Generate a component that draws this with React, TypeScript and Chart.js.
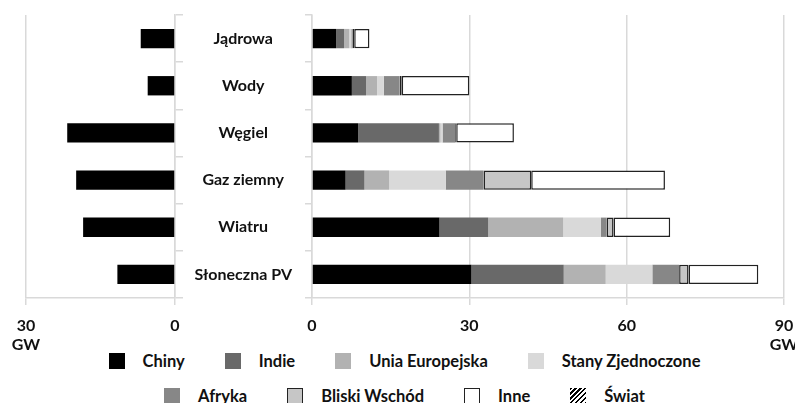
import React, { useEffect, useRef } from "react";
import { Chart, registerables } from "chart.js";
Chart.register(...registerables);

const categories = ["Jądrowa", "Wody", "Węgiel", "Gaz ziemny", "Wiatru", "Słoneczna PV"];
const swiat = [6.9, 5.5, 21.7, 19.9, 18.5, 11.6];
const chiny = [4.6, 7.6, 8.8, 6.4, 24.3, 30.4];
const indie = [1.5, 2.7, 15.4, 3.6, 9.3, 17.6];
const ue = [1.0, 2.1, 0.3, 4.7, 14.3, 8.0];
const usa = [0.4, 1.3, 0.4, 10.8, 7.2, 8.9];
const afryka = [0.2, 3.0, 2.4, 7.2, 1.1, 5.1];
const bliskiWschod = [0.35, 0.4, 0.2, 9.1, 1.3, 1.8];
const inne = [2.9, 12.9, 11.0, 25.5, 10.8, 13.3];
const leftMax = 30;
const rightMax = 90;
const tickStep = 30;
const unit = "GW";

const FONT = "Lato, 'Open Sans', sans-serif";
const GRID = "#d9d9d9";

const legendRow1 = [
  { label: "Chiny", bg: "#000000", border: "#000000" },
  { label: "Indie", bg: "#696969", border: "#696969" },
  { label: "Unia Europejska", bg: "#b2b2b2", border: "#b2b2b2" },
  { label: "Stany Zjednoczone", bg: "#d9d9d9", border: "#d9d9d9" },
];
const legendRow2 = [
  { label: "Afryka", bg: "#878787", border: "#878787" },
  { label: "Bliski Wschód", bg: "#c6c6c6", border: "#222" },
  { label: "Inne", bg: "#ffffff", border: "#222" },
  { label: "Świat", bg: "hatch", border: "transparent" },
];

function LeftChart() {
  const ref = useRef<HTMLCanvasElement>(null);
  useEffect(() => {
    const chart = new Chart(ref.current!, {
      type: "bar",
      data: {
        labels: categories,
        datasets: [
          {
            label: "Świat",
            data: swiat,
            backgroundColor: "#000",
            barPercentage: 0.41,
            categoryPercentage: 1,
          },
        ],
      },
      options: {
        indexAxis: "y",
        animation: false,
        responsive: false,
        maintainAspectRatio: false,
        layout: { padding: { left: 26, top: 15, right: 0, bottom: 0 } },
        plugins: { legend: { display: false }, tooltip: { enabled: false } },
        scales: {
          x: {
            reverse: true,
            min: 0,
            max: leftMax,
            ticks: {
              stepSize: tickStep,
              color: "#111",
              font: { family: FONT, size: 16, weight: "bold" },
              padding: 11,
              callback: (v: any) => (v === leftMax ? [String(v), unit] : String(v)),
            },
            grid: { color: GRID, tickLength: 7, lineWidth: 1.5 },
            border: { color: GRID, width: 1.5 },
            afterFit: (s: any) => {
              s.height = 52;
            },
          },
          y: {
            position: "right",
            ticks: { display: false },
            grid: { color: GRID, drawOnChartArea: false, tickLength: 8, lineWidth: 1.5 },
            border: { color: GRID, width: 1.5 },
            afterFit: (s: any) => {
              s.width = 25;
              s.paddingTop = 0;
              s.paddingBottom = 0;
            },
          },
        },
      },
    });
    return () => chart.destroy();
  }, []);
  return (
    <canvas
      ref={ref}
      width={200}
      height={350}
      style={{ position: "absolute", left: 0, top: 0, width: 200, height: 350 }}
    />
  );
}

function RightChart() {
  const ref = useRef<HTMLCanvasElement>(null);
  useEffect(() => {
    const mk = (label: string, data: number[], bg: string, border?: string) => ({
      label,
      data,
      backgroundColor: bg,
      borderColor: border || bg,
      borderWidth: border ? 1.5 : 0,
      borderSkipped: false as any,
      barPercentage: 0.41,
      categoryPercentage: 1,
    });
    const chart = new Chart(ref.current!, {
      type: "bar",
      data: {
        labels: categories,
        datasets: [
          mk("Chiny", chiny, "#000000"),
          mk("Indie", indie, "#696969"),
          mk("Unia Europejska", ue, "#b2b2b2"),
          mk("Stany Zjednoczone", usa, "#d9d9d9"),
          mk("Afryka", afryka, "#878787"),
          mk("Bliski Wschód", bliskiWschod, "#c6c6c6", "#222"),
          mk("Inne", inne, "#ffffff", "#222"),
        ],
      },
      options: {
        indexAxis: "y",
        animation: false,
        responsive: false,
        maintainAspectRatio: false,
        layout: { padding: { left: 0, top: 15, right: 31, bottom: 0 } },
        plugins: { legend: { display: false }, tooltip: { enabled: false } },
        scales: {
          x: {
            stacked: true,
            min: 0,
            max: rightMax,
            ticks: {
              stepSize: tickStep,
              color: "#111",
              font: { family: FONT, size: 16, weight: "bold" },
              padding: 11,
              callback: (v: any) => (v === rightMax ? [String(v), unit] : String(v)),
            },
            grid: { color: GRID, tickLength: 7, lineWidth: 1.5 },
            border: { color: GRID, width: 1.5 },
            afterFit: (s: any) => {
              s.height = 52;
            },
          },
          y: {
            stacked: true,
            ticks: {
              color: "#111",
              font: { family: FONT, size: 16, weight: "bold" },
              crossAlign: "center",
              padding: 13,
            },
            grid: { color: GRID, drawOnChartArea: false, tickLength: 7, lineWidth: 1.5 },
            border: { color: GRID, width: 1.5 },
            afterFit: (s: any) => {
              s.width = 137;
              s.paddingTop = 0;
              s.paddingBottom = 0;
            },
          },
        },
      },
    });
    return () => chart.destroy();
  }, []);
  return (
    <canvas
      ref={ref}
      width={640}
      height={350}
      style={{ position: "absolute", left: 175, top: 0, width: 640, height: 350 }}
    />
  );
}

function LegendItem({
  label,
  bg,
  border,
  last,
}: {
  label: string;
  bg: string;
  border: string;
  last: boolean;
}) {
  const boxStyle: React.CSSProperties = {
    width: 16,
    height: 16,
    boxSizing: "border-box",
    marginRight: 18,
    flex: "none",
  };
  if (bg === "hatch") {
    boxStyle.background =
      "repeating-linear-gradient(135deg, #000 0px, #000 1.5px, #fff 1.5px, #fff 3.5px)";
  } else {
    boxStyle.background = bg;
    boxStyle.border = border !== bg ? `1.5px solid ${border}` : "none";
  }
  return (
    <div style={{ display: "flex", alignItems: "center", marginRight: last ? 0 : 40 }}>
      <div style={boxStyle} />
      <span>{label}</span>
    </div>
  );
}

export default function App() {
  const rowStyle: React.CSSProperties = {
    position: "absolute",
    left: 7,
    width: 795,
    display: "flex",
    justifyContent: "center",
    height: 20,
    alignItems: "center",
  };
  return (
    <div
      style={{
        position: "fixed",
        left: 0,
        top: 0,
        width: 795,
        height: 403,
        overflow: "hidden",
        background: "#fff",
        fontFamily: FONT,
        fontWeight: "bold",
        fontSize: 16.5,
        color: "#111",
      }}
    >
      <LeftChart />
      <RightChart />
      <div style={{ ...rowStyle, top: 351 }}>
        {legendRow1.map((it, i) => (
          <LegendItem key={it.label} {...it} last={i === legendRow1.length - 1} />
        ))}
      </div>
      <div style={{ ...rowStyle, top: 386 }}>
        {legendRow2.map((it, i) => (
          <LegendItem key={it.label} {...it} last={i === legendRow2.length - 1} />
        ))}
      </div>
    </div>
  );
}
